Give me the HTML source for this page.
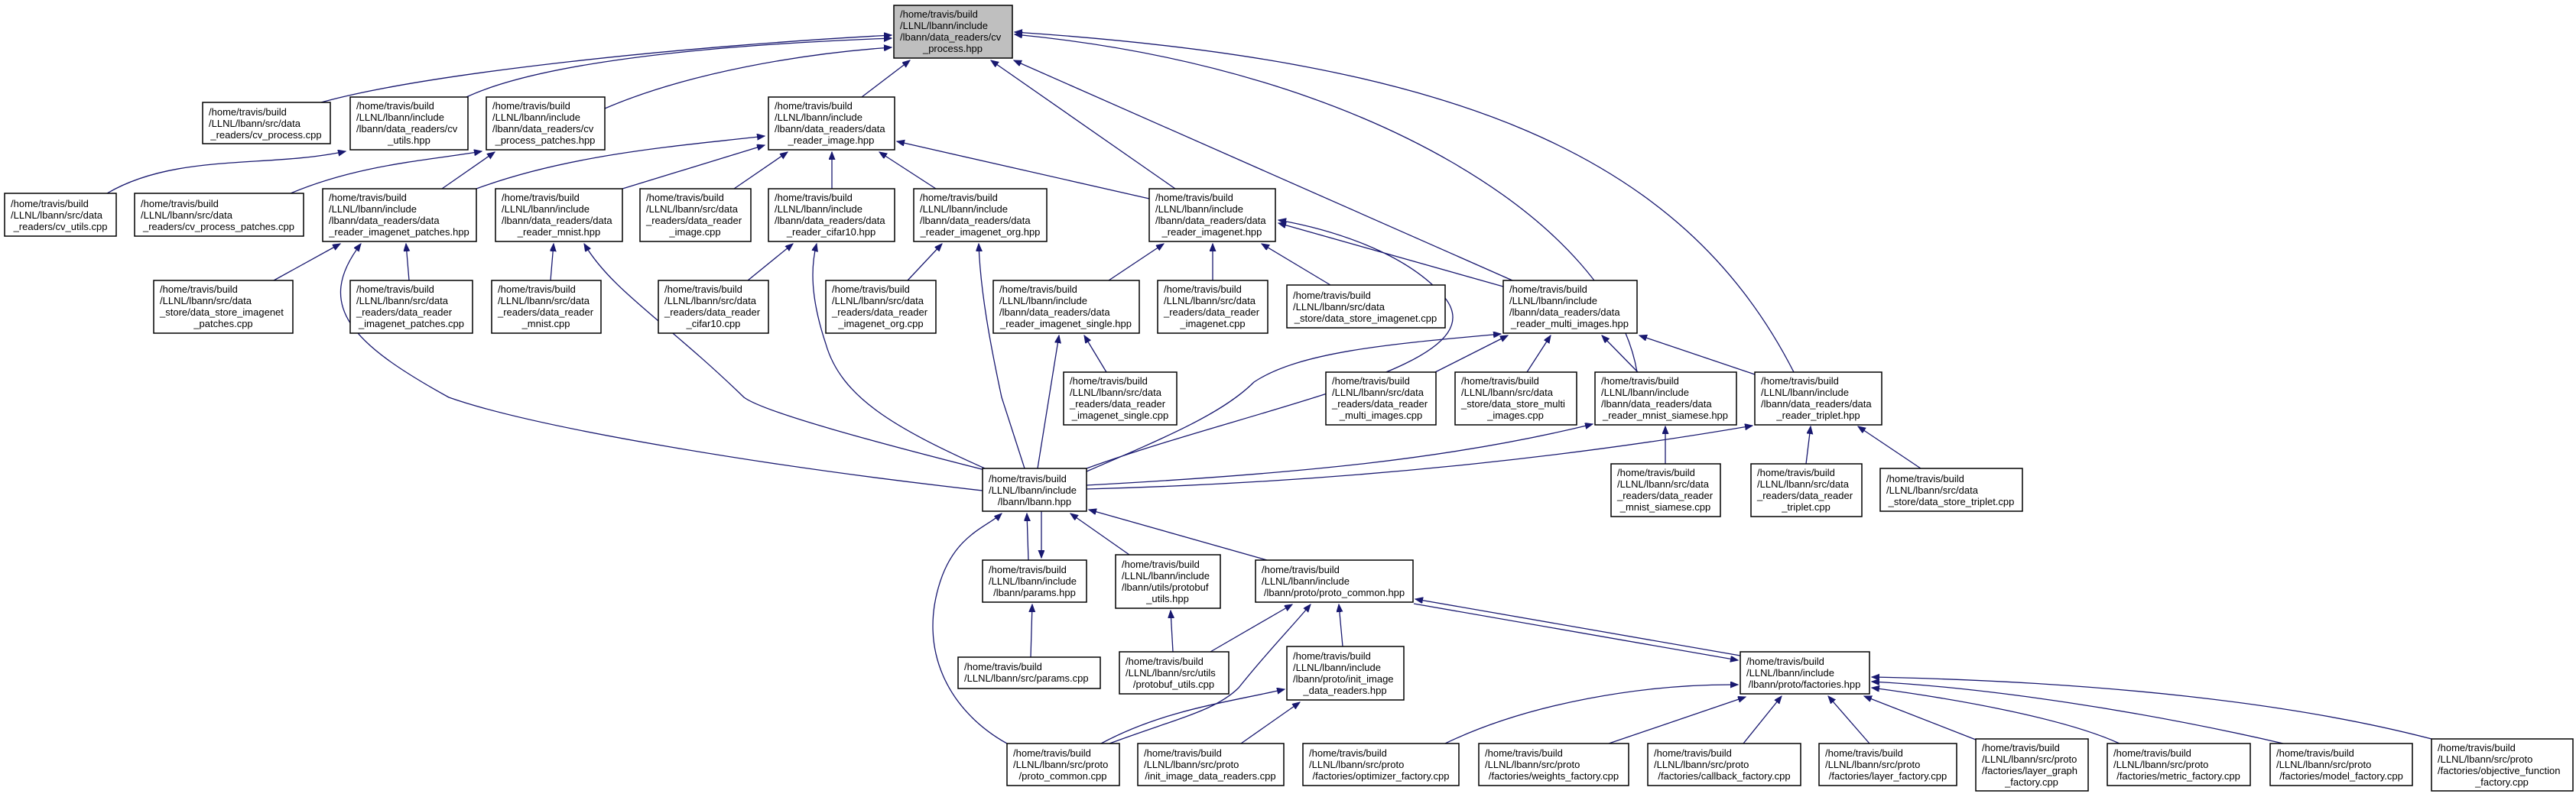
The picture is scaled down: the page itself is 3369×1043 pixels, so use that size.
<!DOCTYPE html>
<html><head><meta charset="utf-8"><style>
html,body{margin:0;padding:0;background:#fff;}
svg{display:block;}
text{font-family:"Liberation Sans",sans-serif;font-size:13px;fill:#000;}
.n rect{fill:#fff;stroke:#000;stroke-width:1.5;}
.e{fill:none;stroke:#191970;stroke-width:1.3;marker-end:url(#ah);}
</style></head><body>
<svg width="3369" height="1043" viewBox="0 0 3369 1043" xmlns="http://www.w3.org/2000/svg">
<defs><marker id="ah" markerUnits="userSpaceOnUse" markerWidth="11" markerHeight="9" refX="10" refY="4" orient="auto"><path d="M0,0 L10,4 L0,8 z" fill="#191970" stroke="#191970"/></marker></defs>

<!-- edges -->
<path class="e" d="M420,134 C560,95 900,60 1166,46"/>
<path class="e" d="M610,127 C700,85 900,60 1166,50"/>
<path class="e" d="M791,142 C900,95 1050,70 1166,62"/>
<path class="e" d="M1127,127 L1190,79"/>
<path class="e" d="M1537,247 L1296,79"/>
<path class="e" d="M1978,367 L1326,79"/>
<path class="e" d="M2141,487 C2110,300 1800,90 1327,45"/>
<path class="e" d="M2346,487 C2200,200 1900,80 1327,42"/>
<path class="e" d="M140,253 C230,200 350,220 452,198"/>
<path class="e" d="M380,253 C470,215 560,210 630,198"/>
<path class="e" d="M578,247 L647,199"/>
<path class="e" d="M623,247 C750,200 900,190 1000,178"/>
<path class="e" d="M814,247 L1000,190"/>
<path class="e" d="M960,247 L1030,199"/>
<path class="e" d="M1088,247 L1088,199"/>
<path class="e" d="M1224,247 L1150,199"/>
<path class="e" d="M1503,260 L1173,185"/>
<path class="e" d="M358,367 L445,319"/>
<path class="e" d="M535,367 L531,319"/>
<path class="e" d="M1285,642 C1000,610 700,560 587,520 C460,450 410,400 472,319"/>
<path class="e" d="M720,367 L724,319"/>
<path class="e" d="M1288,615 C1150,580 1000,540 973,520 C870,420 800,380 764,319"/>
<path class="e" d="M978,367 L1037,319"/>
<path class="e" d="M1288,613 C1170,560 1100,520 1080,450 C1060,390 1060,350 1068,319"/>
<path class="e" d="M1187,367 L1232,319"/>
<path class="e" d="M1340,613 L1310,520 C1295,450 1282,380 1280,319"/>
<path class="e" d="M1450,367 L1522,319"/>
<path class="e" d="M1586,367 L1586,319"/>
<path class="e" d="M1740,373 L1650,319"/>
<path class="e" d="M1966,375 L1672,292"/>
<path class="e" d="M1421,613 C1650,530 1960,480 1890,390 C1840,330 1740,300 1672,288"/>
<path class="e" d="M1447,487 L1418,439"/>
<path class="e" d="M1357,613 L1385,439"/>
<path class="e" d="M1877,487 L1972,439"/>
<path class="e" d="M1997,487 L2028,439"/>
<path class="e" d="M2142,487 L2095,439"/>
<path class="e" d="M2295,490 L2144,439"/>
<path class="e" d="M1421,617 C1530,570 1600,540 1640,500 C1700,460 1820,450 1963,437"/>
<path class="e" d="M2178,607 L2178,558"/>
<path class="e" d="M1421,635 C1700,620 1900,600 2083,555"/>
<path class="e" d="M2362,607 L2368,558"/>
<path class="e" d="M2512,613 L2430,558"/>
<path class="e" d="M1421,640 C1800,630 2100,590 2292,557"/>
<path class="e" d="M1345,733 L1343,672"/>
<path class="e" d="M1362,669 L1362,730"/>
<path class="e" d="M1477,726 L1400,672"/>
<path class="e" d="M1657,733 L1424,667"/>
<path class="e" d="M1317,973 C1240,930 1200,850 1230,760 C1250,700 1290,690 1310,672"/>
<path class="e" d="M1348,860 L1350,791"/>
<path class="e" d="M1534,853 L1531,799"/>
<path class="e" d="M1583,853 L1690,791"/>
<path class="e" d="M1451,973 C1540,940 1590,930 1620,900 C1660,850 1690,820 1714,791"/>
<path class="e" d="M1756,846 L1751,791"/>
<path class="e" d="M2276,858 L1851,784"/>
<path class="e" d="M1849,790 L2273,864"/>
<path class="e" d="M1440,973 C1520,930 1600,920 1680,902"/>
<path class="e" d="M1623,973 L1700,919"/>
<path class="e" d="M1890,973 C2000,920 2150,895 2273,896"/>
<path class="e" d="M2104,973 L2283,912"/>
<path class="e" d="M2280,973 L2330,911"/>
<path class="e" d="M2445,973 L2391,911"/>
<path class="e" d="M2584,968 L2438,911"/>
<path class="e" d="M2772,973 C2700,940 2560,915 2448,900"/>
<path class="e" d="M2986,973 C2800,930 2600,900 2448,892"/>
<path class="e" d="M3180,967 C3000,920 2750,892 2448,886"/>

<!-- nodes -->
<g class="n"><rect x="1169" y="7" width="155" height="69" style="fill:#bfbfbf"/><text><tspan x="1177" y="23">/home/travis/build</tspan><tspan x="1177" y="38">/LLNL/lbann/include</tspan><tspan x="1177" y="53">/lbann/data_readers/cv</tspan><tspan x="1246" y="68" text-anchor="middle">_process.hpp</tspan></text></g>
<g class="n"><rect x="265" y="134" width="167" height="54"/><text><tspan x="273" y="151">/home/travis/build</tspan><tspan x="273" y="166">/LLNL/lbann/src/data</tspan><tspan x="348" y="181" text-anchor="middle">_readers/cv_process.cpp</tspan></text></g>
<g class="n"><rect x="458" y="127" width="154" height="69"/><text><tspan x="466" y="143">/home/travis/build</tspan><tspan x="466" y="158">/LLNL/lbann/include</tspan><tspan x="466" y="173">/lbann/data_readers/cv</tspan><tspan x="535" y="188" text-anchor="middle">_utils.hpp</tspan></text></g>
<g class="n"><rect x="636" y="127" width="155" height="69"/><text><tspan x="644" y="143">/home/travis/build</tspan><tspan x="644" y="158">/LLNL/lbann/include</tspan><tspan x="644" y="173">/lbann/data_readers/cv</tspan><tspan x="713" y="188" text-anchor="middle">_process_patches.hpp</tspan></text></g>
<g class="n"><rect x="1005" y="127" width="165" height="69"/><text><tspan x="1013" y="143">/home/travis/build</tspan><tspan x="1013" y="158">/LLNL/lbann/include</tspan><tspan x="1013" y="173">/lbann/data_readers/data</tspan><tspan x="1087" y="188" text-anchor="middle">_reader_image.hpp</tspan></text></g>
<g class="n"><rect x="6" y="253" width="146" height="56"/><text><tspan x="14" y="271">/home/travis/build</tspan><tspan x="14" y="286">/LLNL/lbann/src/data</tspan><tspan x="79" y="301" text-anchor="middle">_readers/cv_utils.cpp</tspan></text></g>
<g class="n"><rect x="176" y="253" width="221" height="56"/><text><tspan x="184" y="271">/home/travis/build</tspan><tspan x="184" y="286">/LLNL/lbann/src/data</tspan><tspan x="286" y="301" text-anchor="middle">_readers/cv_process_patches.cpp</tspan></text></g>
<g class="n"><rect x="422" y="247" width="201" height="69"/><text><tspan x="430" y="263">/home/travis/build</tspan><tspan x="430" y="278">/LLNL/lbann/include</tspan><tspan x="430" y="293">/lbann/data_readers/data</tspan><tspan x="522" y="308" text-anchor="middle">_reader_imagenet_patches.hpp</tspan></text></g>
<g class="n"><rect x="648" y="247" width="166" height="69"/><text><tspan x="656" y="263">/home/travis/build</tspan><tspan x="656" y="278">/LLNL/lbann/include</tspan><tspan x="656" y="293">/lbann/data_readers/data</tspan><tspan x="731" y="308" text-anchor="middle">_reader_mnist.hpp</tspan></text></g>
<g class="n"><rect x="837" y="247" width="145" height="69"/><text><tspan x="845" y="263">/home/travis/build</tspan><tspan x="845" y="278">/LLNL/lbann/src/data</tspan><tspan x="845" y="293">_readers/data_reader</tspan><tspan x="909" y="308" text-anchor="middle">_image.cpp</tspan></text></g>
<g class="n"><rect x="1005" y="247" width="165" height="69"/><text><tspan x="1013" y="263">/home/travis/build</tspan><tspan x="1013" y="278">/LLNL/lbann/include</tspan><tspan x="1013" y="293">/lbann/data_readers/data</tspan><tspan x="1087" y="308" text-anchor="middle">_reader_cifar10.hpp</tspan></text></g>
<g class="n"><rect x="1195" y="247" width="174" height="69"/><text><tspan x="1203" y="263">/home/travis/build</tspan><tspan x="1203" y="278">/LLNL/lbann/include</tspan><tspan x="1203" y="293">/lbann/data_readers/data</tspan><tspan x="1282" y="308" text-anchor="middle">_reader_imagenet_org.hpp</tspan></text></g>
<g class="n"><rect x="1503" y="247" width="165" height="69"/><text><tspan x="1511" y="263">/home/travis/build</tspan><tspan x="1511" y="278">/LLNL/lbann/include</tspan><tspan x="1511" y="293">/lbann/data_readers/data</tspan><tspan x="1585" y="308" text-anchor="middle">_reader_imagenet.hpp</tspan></text></g>
<g class="n"><rect x="201" y="367" width="182" height="69"/><text><tspan x="209" y="383">/home/travis/build</tspan><tspan x="209" y="398">/LLNL/lbann/src/data</tspan><tspan x="209" y="413">_store/data_store_imagenet</tspan><tspan x="292" y="428" text-anchor="middle">_patches.cpp</tspan></text></g>
<g class="n"><rect x="458" y="367" width="160" height="69"/><text><tspan x="466" y="383">/home/travis/build</tspan><tspan x="466" y="398">/LLNL/lbann/src/data</tspan><tspan x="466" y="413">_readers/data_reader</tspan><tspan x="538" y="428" text-anchor="middle">_imagenet_patches.cpp</tspan></text></g>
<g class="n"><rect x="643" y="367" width="143" height="69"/><text><tspan x="651" y="383">/home/travis/build</tspan><tspan x="651" y="398">/LLNL/lbann/src/data</tspan><tspan x="651" y="413">_readers/data_reader</tspan><tspan x="714" y="428" text-anchor="middle">_mnist.cpp</tspan></text></g>
<g class="n"><rect x="861" y="367" width="144" height="69"/><text><tspan x="869" y="383">/home/travis/build</tspan><tspan x="869" y="398">/LLNL/lbann/src/data</tspan><tspan x="869" y="413">_readers/data_reader</tspan><tspan x="933" y="428" text-anchor="middle">_cifar10.cpp</tspan></text></g>
<g class="n"><rect x="1080" y="367" width="144" height="69"/><text><tspan x="1088" y="383">/home/travis/build</tspan><tspan x="1088" y="398">/LLNL/lbann/src/data</tspan><tspan x="1088" y="413">_readers/data_reader</tspan><tspan x="1152" y="428" text-anchor="middle">_imagenet_org.cpp</tspan></text></g>
<g class="n"><rect x="1299" y="367" width="191" height="69"/><text><tspan x="1307" y="383">/home/travis/build</tspan><tspan x="1307" y="398">/LLNL/lbann/include</tspan><tspan x="1307" y="413">/lbann/data_readers/data</tspan><tspan x="1394" y="428" text-anchor="middle">_reader_imagenet_single.hpp</tspan></text></g>
<g class="n"><rect x="1514" y="367" width="144" height="69"/><text><tspan x="1522" y="383">/home/travis/build</tspan><tspan x="1522" y="398">/LLNL/lbann/src/data</tspan><tspan x="1522" y="413">_readers/data_reader</tspan><tspan x="1586" y="428" text-anchor="middle">_imagenet.cpp</tspan></text></g>
<g class="n"><rect x="1683" y="373" width="207" height="56"/><text><tspan x="1691" y="391">/home/travis/build</tspan><tspan x="1691" y="406">/LLNL/lbann/src/data</tspan><tspan x="1786" y="421" text-anchor="middle">_store/data_store_imagenet.cpp</tspan></text></g>
<g class="n"><rect x="1966" y="367" width="175" height="69"/><text><tspan x="1974" y="383">/home/travis/build</tspan><tspan x="1974" y="398">/LLNL/lbann/include</tspan><tspan x="1974" y="413">/lbann/data_readers/data</tspan><tspan x="2053" y="428" text-anchor="middle">_reader_multi_images.hpp</tspan></text></g>
<g class="n"><rect x="1391" y="487" width="148" height="69"/><text><tspan x="1399" y="503">/home/travis/build</tspan><tspan x="1399" y="518">/LLNL/lbann/src/data</tspan><tspan x="1399" y="533">_readers/data_reader</tspan><tspan x="1465" y="548" text-anchor="middle">_imagenet_single.cpp</tspan></text></g>
<g class="n"><rect x="1734" y="487" width="144" height="69"/><text><tspan x="1742" y="503">/home/travis/build</tspan><tspan x="1742" y="518">/LLNL/lbann/src/data</tspan><tspan x="1742" y="533">_readers/data_reader</tspan><tspan x="1806" y="548" text-anchor="middle">_multi_images.cpp</tspan></text></g>
<g class="n"><rect x="1903" y="487" width="159" height="69"/><text><tspan x="1911" y="503">/home/travis/build</tspan><tspan x="1911" y="518">/LLNL/lbann/src/data</tspan><tspan x="1911" y="533">_store/data_store_multi</tspan><tspan x="1982" y="548" text-anchor="middle">_images.cpp</tspan></text></g>
<g class="n"><rect x="2086" y="487" width="185" height="69"/><text><tspan x="2094" y="503">/home/travis/build</tspan><tspan x="2094" y="518">/LLNL/lbann/include</tspan><tspan x="2094" y="533">/lbann/data_readers/data</tspan><tspan x="2178" y="548" text-anchor="middle">_reader_mnist_siamese.hpp</tspan></text></g>
<g class="n"><rect x="2295" y="487" width="166" height="69"/><text><tspan x="2303" y="503">/home/travis/build</tspan><tspan x="2303" y="518">/LLNL/lbann/include</tspan><tspan x="2303" y="533">/lbann/data_readers/data</tspan><tspan x="2378" y="548" text-anchor="middle">_reader_triplet.hpp</tspan></text></g>
<g class="n"><rect x="1285" y="613" width="136" height="56"/><text><tspan x="1293" y="631">/home/travis/build</tspan><tspan x="1293" y="646">/LLNL/lbann/include</tspan><tspan x="1353" y="661" text-anchor="middle">/lbann/lbann.hpp</tspan></text></g>
<g class="n"><rect x="2107" y="607" width="143" height="69"/><text><tspan x="2115" y="623">/home/travis/build</tspan><tspan x="2115" y="638">/LLNL/lbann/src/data</tspan><tspan x="2115" y="653">_readers/data_reader</tspan><tspan x="2178" y="668" text-anchor="middle">_mnist_siamese.cpp</tspan></text></g>
<g class="n"><rect x="2290" y="607" width="145" height="69"/><text><tspan x="2298" y="623">/home/travis/build</tspan><tspan x="2298" y="638">/LLNL/lbann/src/data</tspan><tspan x="2298" y="653">_readers/data_reader</tspan><tspan x="2362" y="668" text-anchor="middle">_triplet.cpp</tspan></text></g>
<g class="n"><rect x="2459" y="613" width="186" height="56"/><text><tspan x="2467" y="631">/home/travis/build</tspan><tspan x="2467" y="646">/LLNL/lbann/src/data</tspan><tspan x="2552" y="661" text-anchor="middle">_store/data_store_triplet.cpp</tspan></text></g>
<g class="n"><rect x="1285" y="733" width="136" height="55"/><text><tspan x="1293" y="750">/home/travis/build</tspan><tspan x="1293" y="765">/LLNL/lbann/include</tspan><tspan x="1353" y="780" text-anchor="middle">/lbann/params.hpp</tspan></text></g>
<g class="n"><rect x="1459" y="726" width="137" height="70"/><text><tspan x="1467" y="743">/home/travis/build</tspan><tspan x="1467" y="758">/LLNL/lbann/include</tspan><tspan x="1467" y="773">/lbann/utils/protobuf</tspan><tspan x="1527" y="788" text-anchor="middle">_utils.hpp</tspan></text></g>
<g class="n"><rect x="1642" y="733" width="206" height="55"/><text><tspan x="1650" y="750">/home/travis/build</tspan><tspan x="1650" y="765">/LLNL/lbann/include</tspan><tspan x="1745" y="780" text-anchor="middle">/lbann/proto/proto_common.hpp</tspan></text></g>
<g class="n"><rect x="1253" y="860" width="186" height="41"/><text><tspan x="1261" y="877">/home/travis/build</tspan><tspan x="1261" y="892">/LLNL/lbann/src/params.cpp</tspan></text></g>
<g class="n"><rect x="1464" y="853" width="143" height="55"/><text><tspan x="1472" y="870">/home/travis/build</tspan><tspan x="1472" y="885">/LLNL/lbann/src/utils</tspan><tspan x="1535" y="900" text-anchor="middle">/protobuf_utils.cpp</tspan></text></g>
<g class="n"><rect x="1683" y="846" width="153" height="70"/><text><tspan x="1691" y="863">/home/travis/build</tspan><tspan x="1691" y="878">/LLNL/lbann/include</tspan><tspan x="1691" y="893">/lbann/proto/init_image</tspan><tspan x="1759" y="908" text-anchor="middle">_data_readers.hpp</tspan></text></g>
<g class="n"><rect x="2276" y="853" width="169" height="55"/><text><tspan x="2284" y="870">/home/travis/build</tspan><tspan x="2284" y="885">/LLNL/lbann/include</tspan><tspan x="2360" y="900" text-anchor="middle">/lbann/proto/factories.hpp</tspan></text></g>
<g class="n"><rect x="1317" y="973" width="147" height="55"/><text><tspan x="1325" y="990">/home/travis/build</tspan><tspan x="1325" y="1005">/LLNL/lbann/src/proto</tspan><tspan x="1390" y="1020" text-anchor="middle">/proto_common.cpp</tspan></text></g>
<g class="n"><rect x="1488" y="973" width="191" height="55"/><text><tspan x="1496" y="990">/home/travis/build</tspan><tspan x="1496" y="1005">/LLNL/lbann/src/proto</tspan><tspan x="1583" y="1020" text-anchor="middle">/init_image_data_readers.cpp</tspan></text></g>
<g class="n"><rect x="1704" y="973" width="204" height="55"/><text><tspan x="1712" y="990">/home/travis/build</tspan><tspan x="1712" y="1005">/LLNL/lbann/src/proto</tspan><tspan x="1806" y="1020" text-anchor="middle">/factories/optimizer_factory.cpp</tspan></text></g>
<g class="n"><rect x="1934" y="973" width="196" height="55"/><text><tspan x="1942" y="990">/home/travis/build</tspan><tspan x="1942" y="1005">/LLNL/lbann/src/proto</tspan><tspan x="2032" y="1020" text-anchor="middle">/factories/weights_factory.cpp</tspan></text></g>
<g class="n"><rect x="2155" y="973" width="200" height="55"/><text><tspan x="2163" y="990">/home/travis/build</tspan><tspan x="2163" y="1005">/LLNL/lbann/src/proto</tspan><tspan x="2255" y="1020" text-anchor="middle">/factories/callback_factory.cpp</tspan></text></g>
<g class="n"><rect x="2379" y="973" width="180" height="55"/><text><tspan x="2387" y="990">/home/travis/build</tspan><tspan x="2387" y="1005">/LLNL/lbann/src/proto</tspan><tspan x="2469" y="1020" text-anchor="middle">/factories/layer_factory.cpp</tspan></text></g>
<g class="n"><rect x="2584" y="967" width="147" height="68"/><text><tspan x="2592" y="983">/home/travis/build</tspan><tspan x="2592" y="998">/LLNL/lbann/src/proto</tspan><tspan x="2592" y="1013">/factories/layer_graph</tspan><tspan x="2657" y="1028" text-anchor="middle">_factory.cpp</tspan></text></g>
<g class="n"><rect x="2756" y="973" width="187" height="55"/><text><tspan x="2764" y="990">/home/travis/build</tspan><tspan x="2764" y="1005">/LLNL/lbann/src/proto</tspan><tspan x="2849" y="1020" text-anchor="middle">/factories/metric_factory.cpp</tspan></text></g>
<g class="n"><rect x="2969" y="973" width="186" height="55"/><text><tspan x="2977" y="990">/home/travis/build</tspan><tspan x="2977" y="1005">/LLNL/lbann/src/proto</tspan><tspan x="3062" y="1020" text-anchor="middle">/factories/model_factory.cpp</tspan></text></g>
<g class="n"><rect x="3180" y="967" width="185" height="68"/><text><tspan x="3188" y="983">/home/travis/build</tspan><tspan x="3188" y="998">/LLNL/lbann/src/proto</tspan><tspan x="3188" y="1013">/factories/objective_function</tspan><tspan x="3272" y="1028" text-anchor="middle">_factory.cpp</tspan></text></g>
</svg>
</body></html>
